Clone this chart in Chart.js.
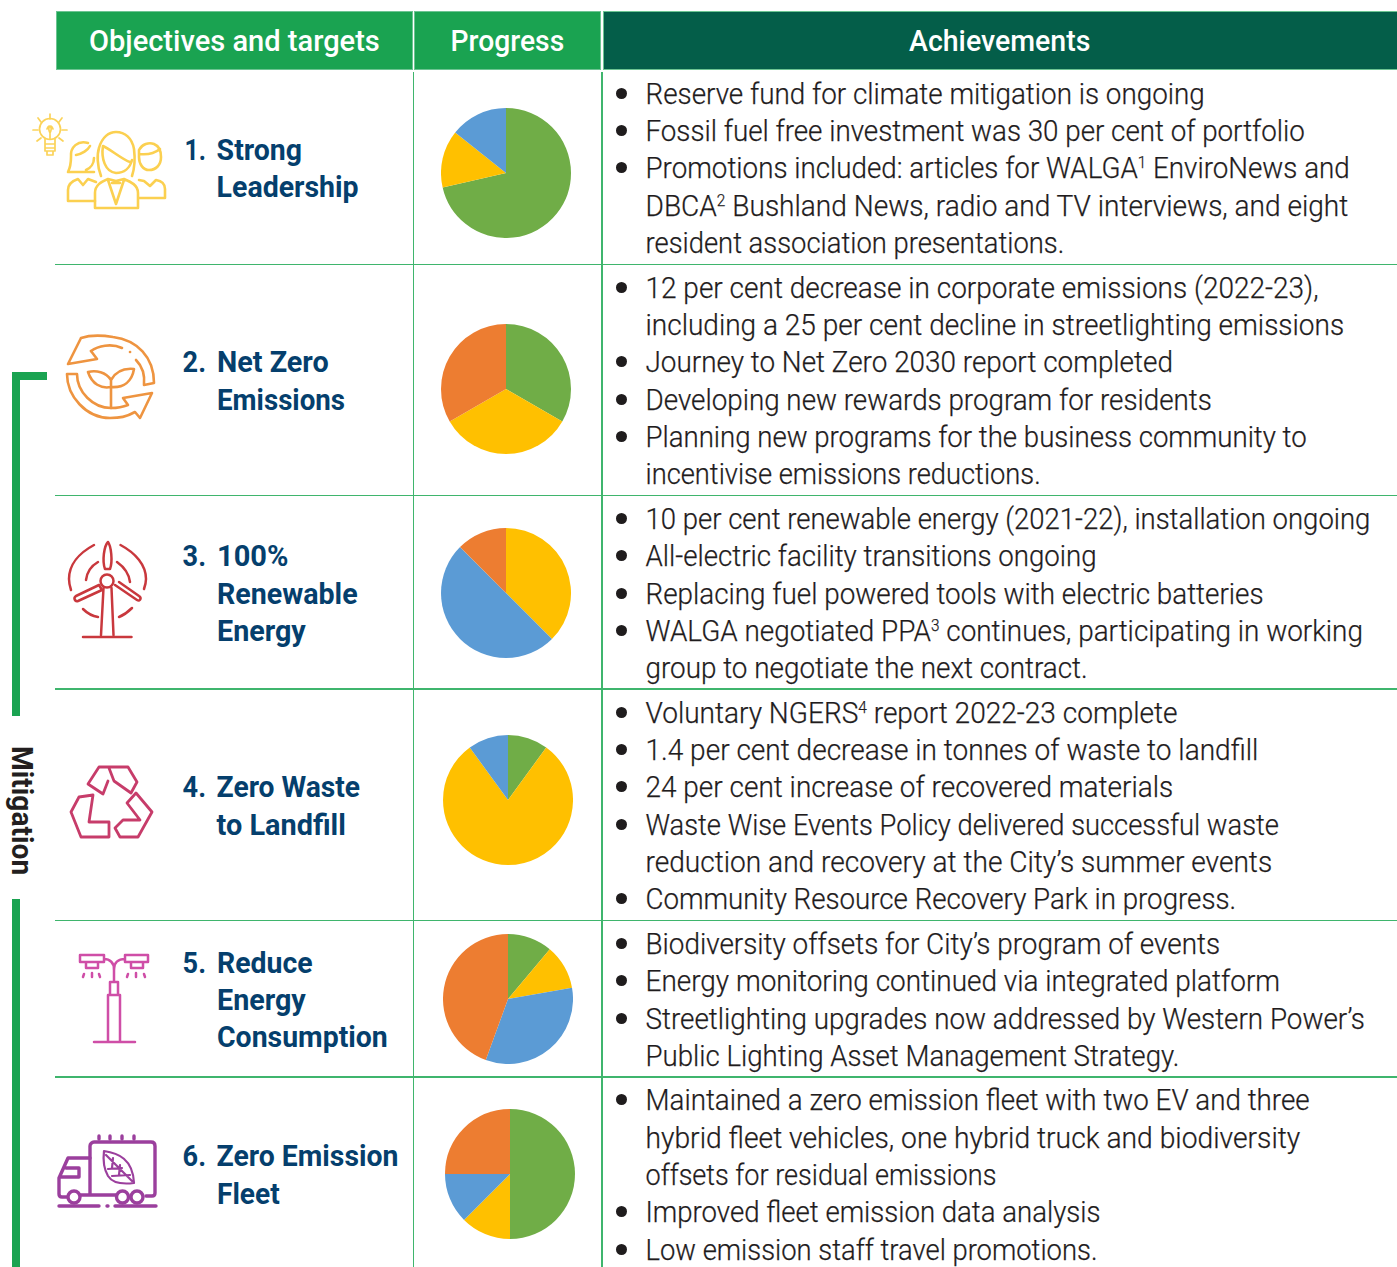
<!DOCTYPE html>
<html lang="en">
<head>
<meta charset="utf-8">
<title>Objectives and targets</title>
<script src="https://cdn.jsdelivr.net/npm/chart.js@4/dist/chart.umd.min.js"></script>
<style>
html,body{margin:0;padding:0;background:#fff;width:1397px;height:1267px;overflow:hidden}
#root{position:relative;width:1397px;height:1267px;overflow:hidden;font-family:Roboto,"Liberation Sans",sans-serif}
.t{position:absolute;left:0;top:0;white-space:nowrap;transform-origin:0 0;font-size:29px;line-height:36px}
.t i{display:inline-block;width:0;height:0}
.t sup{font-size:.55em;line-height:0;vertical-align:baseline;position:relative;top:-.62em}
.body{font-weight:300;color:#1f1c1d;-webkit-text-stroke:.25px #1f1c1d}
.lab{font-weight:700;color:#053f6d}
.hd{font-weight:500;color:#fff;font-size:30px}
.mit{font-weight:700;color:#231f20;font-size:30px}
.box{position:absolute}
.dot{position:absolute;width:11px;height:11px;border-radius:50%;background:#1f1c1d}
canvas{position:absolute;display:block}
svg{position:absolute;left:0;top:0}
svg *{fill:none;stroke-linecap:round;stroke-linejoin:round}
</style>
</head>
<body>
<div id="root">
<svg width="1397" height="1267" viewBox="0 0 1397 1267" aria-hidden="true">
  <!-- 1 leadership -->
  <g stroke="#fbd35a" stroke-width="1.7">
    <circle cx="50" cy="129" r="10.5"/><path d="M45 139v12h10v-12M45 144h10M45 148h10M47 151v4h6v-4M47 129c2-6 6-2 3 4M53 129c-2-6-6-2-3 4M50 133v6"/>
    <path d="M50 114v5M38 118l3 4M62 118l-3 4M33 130h5M62 130h5M37 141l4-3M63 141l-4-3"/>
  </g>
  <g stroke="#fbd050" stroke-width="2.6">
    <path d="M101 176c-4-10-4-22-2-28 3-11 10-16 17-16 9 0 16 6 18 17 1 8 1 18-2 27"/>
    <path d="M103 146c7 3 20 14 27 16M103 146c-2 12 2 26 13 27 8 0 14-5 16-13"/>
    <path d="M95 208v-15c0-8 6-11 13-14l8 2 8-2c7 3 14 6 14 14v15zM108 180l8 24 8-24M112 183h8"/>
    <path d="M88 143c-10-3-18 4-17 14 0 6-1 11-3 15h26M76 155c6-1 12-5 14-9M94 158c0 5-3 10-8 12"/>
    <path d="M68 201v-11c0-6 4-9 10-11l5 6 5-6 8 3M68 201h27"/>
    <path d="M139 150c3-6 10-8 15-6 5 2 7 7 7 13 0 8-5 13-12 13-6 0-10-6-10-13zM139 154c8 1 16-1 21-5"/>
    <path d="M139 180l5 1 6 5 6-6c6 1 9 4 9 9v9h-26"/>
  </g>
  <!-- 2 emissions -->
  <g stroke="#ee9440" stroke-width="2.6">
    <path d="M81 338c9-3 20-3 32-1 24 3 41 20 41 46l-10 2c1-10-2-19-8-25M81 338l-13 26 29-5-6-8"/>
    <path d="M91 351c7-5 20-8 31-3"/><path d="M130 352h.1"/>
    <path d="M67 374h10c0 18 16 34 34 34 6 0 12-1 17-3l-5-7 29-5-12 25-5-6c-9 5-15 6-25 6-24 0-43-22-43-44z"/>
    <path d="M111 408v-28M111 387c-10 2-19-3-23-15 8-2 18 0 23 8 5-9 13-12 23-11-2 12-10 19-23 18"/>
  </g>
  <!-- 3 renewable -->
  <g stroke="#c9383d" stroke-width="2.5">
    <circle cx="107" cy="581" r="6.5"/>
    <path d="M105 569c-3-8-1-23 3-27 3 4 5 19 2 27zM99 585l-23 11c-3 2-1 6 2 5l24-11zM115 585l22 15c3 2 5-2 2-4l-20-14"/>
    <path d="M103.5 588l-2.5 47M111.5 588l2 47M83 637h48.500"/>
    <path d="M94 545c-15 8-25 20-25 34 0 4 1 8 2 11M120.500 545c15 8 25.500 20 25.500 34 0 4-1 7-2 10M98 562c-7 4-11 10-12 18M117 562c7 5 12 12 13 20M83 609c4 4 9 7 15 8M132 608c-4 4-8 7-13 9"/>
  </g>
  <!-- 4 landfill -->
  <g stroke="#c73c6a" stroke-width="2.800">
    <path d="M108 781l-5 13-15-10 11-17h29l9 15-6 11-17-12-5-13"/>
    <path d="M93 795l-14 2-8 15 10 25h28v-15H89z"/>
    <path d="M136 793l16 19-14 25h-18l-5-9 8-8h17l-13-17z"/>
  </g>
  <!-- 5 energy -->
  <g stroke="#cf4ea7" stroke-width="2.500">
    <path d="M80 955h24v7H80zM86 962v6h12v-6M125 955h23v7h-23zM131 962v6h12v-6M104 959c6 0 10 4 10 10 0-6 4-10 11-10"/>
    <path d="M114 969v13M110 982h8v13h-8zM108 995h12v47h-12zM94 1042h41"/>
    <path d="M84 974l-1 3M92 973v4M99 974l1 3M128 974l-1 3M136 973v4M144 974l1 3"/>
  </g>
  <!-- 6 fleet -->
  <g stroke="#9b3f9d" stroke-width="3.400">
    <path d="M90 1195v-49c0-2 2-4 4-4h57c3 0 4 2 4 4v47c0 2-1 3-3 3h-6M116 1195H81"/>
    <path d="M90 1158H68l-9 20v16c0 2 1 3 3 3h5M60 1177h19v-9H66"/>
    <circle cx="74" cy="1197" r="6"/><circle cx="122.500" cy="1197" r="6"/><circle cx="137" cy="1197" r="6"/>
    <path d="M99 1136v3M110 1136v3M122 1136v3M134 1136v3M59 1206h40M107 1206h1M115 1206h41"/>
    <path d="M104 1151c14 2 29 8 30 32-8 1-21 1-26-7-4-7-5-17-4-25zM106 1155l26 26M108 1169l14-1M112 1176l18-1M113 1158l-1 10M120 1165l-1 10" stroke-width="2.200"/>
  </g>
</svg>
</div>
<script>
// ---- chart values: progress segments for each objective, clockwise from 12 o'clock ----
const segmentNames = ['Green', 'Yellow', 'Blue', 'Orange'];
const segmentColours = ['#70ad47', '#ffc000', '#5b9bd5', '#ed7d31'];
const strongLeadership = [5, 1, 1, 0];
const netZeroEmissions = [1, 1, 0, 1];
const renewableEnergy = [0, 3, 4, 1];
const zeroWasteToLandfill = [1, 8, 1, 0];
const reduceEnergyConsumption = [1, 1, 3, 4];
const zeroEmissionFleet = [4, 1, 1, 2];
const progressSeries = [strongLeadership, netZeroEmissions, renewableEnergy, zeroWasteToLandfill, reduceEnergyConsumption, zeroEmissionFleet];

// ---- text ----
const headers = ['Objectives and targets', 'Progress', 'Achievements'];
const numbers = ['1.', '2.', '3.', '4.', '5.', '6.'];
const objectiveLines = ['Strong', 'Leadership', 'Net Zero', 'Emissions', '100%', 'Renewable', 'Energy', 'Zero Waste', 'to Landfill', 'Reduce', 'Energy', 'Consumption', 'Zero Emission', 'Fleet'];
const achievementLines = [
 '•Reserve fund for climate mitigation is ongoing',
 '•Fossil fuel free investment was 30 per cent of portfolio',
 '•Promotions included: articles for WALGA<sup>1</sup> EnviroNews and',
 'DBCA<sup>2</sup> Bushland News, radio and TV interviews, and eight',
 'resident association presentations.',
 '•12 per cent decrease in corporate emissions (2022-23),',
 'including a 25 per cent decline in streetlighting emissions',
 '•Journey to Net Zero 2030 report completed',
 '•Developing new rewards program for residents',
 '•Planning new programs for the business community to',
 'incentivise emissions reductions.',
 '•10 per cent renewable energy (2021-22), installation ongoing',
 '•All-electric facility transitions ongoing',
 '•Replacing fuel powered tools with electric batteries',
 '•WALGA negotiated PPA<sup>3</sup> continues, participating in working',
 'group to negotiate the next contract.',
 '•Voluntary NGERS<sup>4</sup> report 2022-23 complete',
 '•1.4 per cent decrease in tonnes of waste to landfill',
 '•24 per cent increase of recovered materials',
 '•Waste Wise Events Policy delivered successful waste',
 'reduction and recovery at the City’s summer events',
 '•Community Resource Recovery Park in progress.',
 '•Biodiversity offsets for City’s program of events',
 '•Energy monitoring continued via integrated platform',
 '•Streetlighting upgrades now addressed by Western Power’s',
 'Public Lighting Asset Management Strategy.',
 '•Maintained a zero emission fleet with two EV and three',
 'hybrid fleet vehicles, one hybrid truck and biodiversity',
 'offsets for residual emissions',
 '•Improved fleet emission data analysis',
 '•Low emission staff travel promotions.'
];

// ---- layout ----
const pieCentres = [[506,172.5],[506,388.5],[506,593],[507.5,800],[507.5,998.5],[510,1174]];
const pieRadius = 65;
const headerCells = [[57,12,355,57,'#1aa351'],[415,12,185,57,'#1aa351'],[604,12,793,57,'#045e49']];
const headerTextX = [[89,379.5,51],[450.5,564.5,51],[909,1090.5,51]];
const ruleYs = [264.5,495.5,689,920.5,1077];
const numberBaselines = [160,372,566,797,973,1166];
const numberLefts = [184.6,182.6,182.6,182.6,182.6,182.6];
const objectiveGeom = [[216.6,302,160],[216.6,359,197],[217,329,372],[217,345,410],[217,288,566],[217,358,604],[217,306,641],[216.6,360.5,797],[216.6,346,835],[217,313,973],[217,306,1010],[217,387.5,1047],[216.6,398.4,1166],[217,280,1204]];
const achBaselines = [104,141,178,216,253, 298,335,372,409.5,447,484, 529,566,603.5,641,678, 722.5,759.5,797,835,871.5,908.5, 953.5,990.5,1029,1065.5, 1109.5,1147.5,1185,1221.7,1260];
const achRights = [1204.5,1304.6,1350,1348,1064, 1319,1344,1173,1211.6,1307,1041, 1370,1097,1263.5,1362.6,1088, 1178,1258,1173,1278.7,1272,1236.5, 1220,1280,1364.6,1179.5, 1310,1300,996.5,1100,1097];

const root = document.getElementById('root');
function box(x, y, w, h, c) {
  const d = document.createElement('div');
  d.className = 'box';
  d.style.cssText = `left:${x}px;top:${y}px;width:${w}px;height:${h}px;background:${c}`;
  root.appendChild(d);
  return d;
}
function text(html, x, right, base, cls, rot) {
  const el = document.createElement('span');
  el.className = 't ' + cls;
  el.innerHTML = '<i></i>' + html;
  root.appendChild(el);
  const b = el.querySelector('i').getBoundingClientRect().bottom - el.getBoundingClientRect().top;
  const s = (right - x) / el.offsetWidth;
  el.style.transform = `translate(${x}px,${base}px) rotate(${rot || 0}deg) scaleX(${s}) translate(0,${-b}px)`;
}

// grid
headerCells.forEach(([x, y, w, h, c]) => { const d = box(x, y, w, h, c); d.style.boxShadow = '0 0 0 1px #6cc492'; });
const ruleColour = '#3fb56d';
ruleYs.forEach(y => box(55, y - 0.75, 1342, 1.5, ruleColour));
box(412.5, 72, 1.5, 1195, ruleColour);
box(601, 72, 1.5, 1195, ruleColour);

// mitigation bracket
const bracket = '#1aa351';
box(12, 372, 35, 8, bracket);
box(12, 372, 8, 344, bracket);
box(12, 899, 8, 368, bracket);
text('Mitigation', 12, 141, 746, 'mit', 90);

// header text
headers.forEach((h, i) => text(h, headerTextX[i][0], headerTextX[i][1], headerTextX[i][2], 'hd'));

// objective text
numbers.forEach((n, i) => text(n, numberLefts[i], 206, numberBaselines[i], 'lab'));
objectiveLines.forEach((l, i) => text(l, objectiveGeom[i][0], objectiveGeom[i][1], objectiveGeom[i][2], 'lab'));

// achievement text
achievementLines.forEach((l, i) => {
  const bullet = l.startsWith('•');
  if (bullet) {
    const d = document.createElement('div');
    d.className = 'dot';
    d.style.left = '615.5px';
    d.style.top = (achBaselines[i] - 16) + 'px';
    root.appendChild(d);
  }
  text(bullet ? l.slice(1) : l, 645.5, achRights[i], achBaselines[i], 'body');
});

// pies
progressSeries.forEach((values, i) => {
  const size = pieRadius * 2;
  const cv = document.createElement('canvas');
  cv.width = size; cv.height = size;
  cv.style.left = (pieCentres[i][0] - pieRadius) + 'px';
  cv.style.top = (pieCentres[i][1] - pieRadius) + 'px';
  cv.style.width = size + 'px'; cv.style.height = size + 'px';
  root.appendChild(cv);
  new Chart(cv, {
    type: 'pie',
    data: { labels: segmentNames, datasets: [{ data: values, backgroundColor: segmentColours, borderWidth: 0, hoverOffset: 0, offset: 0 }] },
    options: {
      responsive: false, animation: false,
      layout: { padding: 0 },
      events: [],
      plugins: { legend: { display: false }, tooltip: { enabled: false } }
    }
  });
});
</script>
</body>
</html>
